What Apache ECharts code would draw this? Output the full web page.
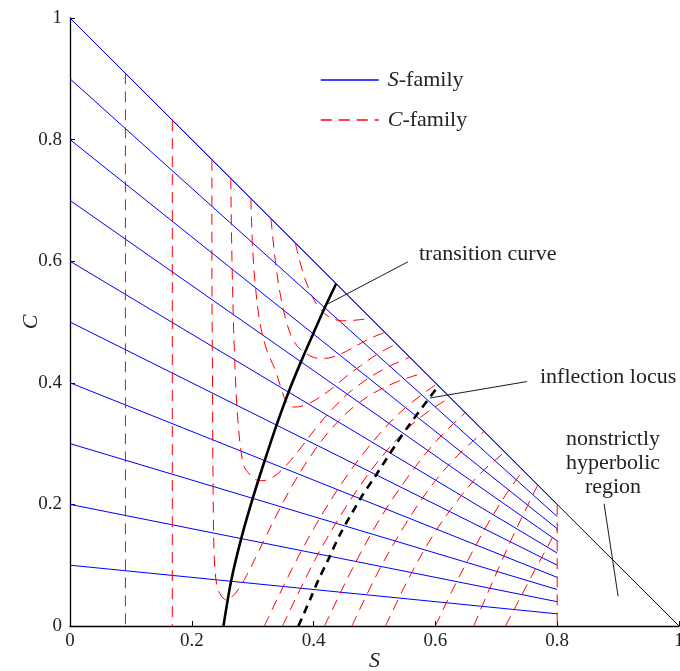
<!DOCTYPE html>
<html><head><meta charset="utf-8">
<script src="https://cdn.jsdelivr.net/npm/echarts@6/dist/echarts.min.js"></script>
<style>html,body{margin:0;padding:0;background:#fff}#c{width:680px;height:671px}</style>
</head><body><div id="c"></div>
<script>
// ---------- data ----------
const AXIS_TICKS = [0, 0.2, 0.4, 0.6, 0.8, 1];
// S-family: straight lines from (0, startC) to (0.8, endC)
const S_FAMILY_START_C = [0.1, 0.2, 0.3, 0.4, 0.5, 0.6, 0.7, 0.8, 0.9, 1.0];
const S_FAMILY_END_S = 0.8;
const S_FAMILY_END_C = [0.02, 0.04, 0.06, 0.08, 0.10, 0.12, 0.14, 0.16, 0.18, 0.20];
// boundary S + C = 1
const BOUNDARY = [[0, 1], [1, 0]];
// C-family curves
const C_VERT_1 = [[0.091, 0.909], [0.091, 0]];
const C_VERT_2 = [[0.168, 0.832], [0.168, 0]];
const C_EDGE = [[0.8, 0.2], [0.8, 0]];
const C_U1 = [[0.233,0.767],[0.233,0.6],[0.234,0.4],[0.235,0.22],[0.237,0.11],[0.241,0.068],[0.248,0.050],[0.257,0.043],[0.266,0.048],[0.277,0.061],[0.29,0.083],[0.305,0.113],[0.322,0.148],[0.342,0.188],[0.365,0.231],[0.392,0.275],[0.422,0.316],[0.456,0.352],[0.495,0.381],[0.538,0.402],[0.583,0.417]];
const C_U2 = [[0.264,0.736],[0.266,0.6],[0.27,0.45],[0.276,0.334],[0.285,0.265],[0.296,0.248],[0.304,0.241],[0.315,0.239],[0.33,0.243],[0.345,0.254],[0.362,0.272],[0.382,0.297],[0.405,0.327],[0.432,0.358],[0.462,0.387],[0.494,0.41],[0.526,0.428],[0.558,0.442]];
const C_U3 = [[0.297,0.703],[0.300,0.618],[0.305,0.553],[0.312,0.498],[0.323,0.454],[0.337,0.421],[0.347,0.39],[0.356,0.368],[0.368,0.36],[0.385,0.363],[0.405,0.373],[0.428,0.389],[0.452,0.409],[0.477,0.428],[0.506,0.448],[0.536,0.464]];
const C_U4 = [[0.330,0.670],[0.337,0.602],[0.345,0.547],[0.356,0.498],[0.369,0.466],[0.386,0.449],[0.41,0.44],[0.43,0.442],[0.45,0.450],[0.472,0.462],[0.495,0.474],[0.517,0.483]];
const C_U5 = [[0.370,0.630],[0.376,0.605],[0.383,0.580],[0.394,0.550],[0.41,0.522],[0.428,0.507],[0.448,0.502],[0.468,0.503],[0.494,0.506]];
const C_A1 = [[0.319,0],[0.376,0.116],[0.432,0.213],[0.489,0.293],[0.545,0.354],[0.602,0.398]];
const C_A2 = [[0.349,0],[0.404,0.112],[0.459,0.205],[0.514,0.281],[0.569,0.338],[0.624,0.376]];
const C_A3 = [[0.418,0],[0.464,0.095],[0.510,0.178],[0.557,0.248],[0.603,0.306],[0.649,0.351]];
const C_A4 = [[0.463,0],[0.506,0.089],[0.550,0.166],[0.593,0.230],[0.637,0.281],[0.68,0.32]];
const C_A5 = [[0.518,0],[0.557,0.080],[0.596,0.149],[0.636,0.206],[0.675,0.252],[0.714,0.286]];
const C_A6 = [[0.60,0],[0.629,0.061],[0.658,0.117],[0.686,0.168],[0.715,0.215],[0.744,0.256]];
const C_A7 = [[0.663,0],[0.684,0.050],[0.705,0.098],[0.726,0.145],[0.747,0.189],[0.768,0.232]];
const C_A8 = [[0.715,0],[0.758,0.082],[0.8,0.16]];
const C_CURVES = [C_VERT_1, C_VERT_2, C_U1, C_U2, C_U3, C_U4, C_U5, C_A1, C_A2, C_A3, C_A4, C_A5, C_A6, C_A7, C_A8, C_EDGE];
// special curves
const TRANSITION_CURVE = [[0.252,0],[0.265,0.076],[0.282,0.147],[0.301,0.213],[0.320,0.273],[0.339,0.330],[0.359,0.385],[0.379,0.434],[0.399,0.480],[0.419,0.525],[0.437,0.563]];
const INFLECTION_LOCUS = [[0.375,0],[0.394,0.043],[0.408,0.076],[0.424,0.109],[0.443,0.150],[0.479,0.213],[0.501,0.246],[0.536,0.300],[0.558,0.332],[0.605,0.395]];
// annotation leaders (data coordinates)
const LEADER_TRANSITION = [[0.555,0.599],[0.424,0.530]];
const LEADER_INFLECTION = [[0.75,0.402],[0.591,0.375]];
const LEADER_REGION = [[0.877,0.201],[0.900,0.049]];
const LABELS = ['transition curve', 'inflection locus', 'nonstrictly\nhyperbolic\nregion'];
const LEGEND_NAMES = ['S-family', 'C-family'];

// ---------- chart ----------
const FONT = 'Liberation Serif';
const chart = echarts.init(document.getElementById('c'), null, {renderer: 'canvas'});
const series = [];
function addLine(name, data, color, width, type, z, smooth) {
  series.push({
    name: name, type: 'line', data: data, symbol: 'none', showSymbol: false,
    smooth: smooth || false, z: z, silent: true, animation: false,
    lineStyle: {color: color, width: width, type: type, cap: 'butt'},
    itemStyle: {color: color}
  });
}
addLine('boundary', BOUNDARY, '#000', 1, 'solid', 2);
S_FAMILY_START_C.forEach((c, i) => {
  addLine(LEGEND_NAMES[0], [[0, c], [S_FAMILY_END_S, S_FAMILY_END_C[i]]], '#0000ff', 1, 'solid', 3);
});
C_CURVES.forEach(curve => {
  addLine(LEGEND_NAMES[1], curve, '#ff0000', 1, [11, 7], 4, curve.length > 3 ? 0.35 : false);
});
addLine('transition', TRANSITION_CURVE, '#000', 2.6, 'solid', 6, 0.3);
addLine('inflection', INFLECTION_LOCUS, '#000', 2.6, [8, 6], 6, 0.3);
[LEADER_TRANSITION, LEADER_INFLECTION, LEADER_REGION].forEach(l => addLine('leader', l, '#000', 0.9, 'solid', 5));

const fmt = v => String(+(+v).toFixed(1));
const axisCommon = {
  type: 'value', min: 0, max: 1, interval: 0.2,
  splitLine: {show: false},
  axisLine: {show: true, onZero: false, lineStyle: {color: '#000', width: 1.3}},
  axisTick: {show: true, inside: true, length: 5, lineStyle: {color: '#000', width: 1}},
  axisLabel: {fontFamily: FONT, fontSize: 19, color: '#222', formatter: fmt},
  nameTextStyle: {fontFamily: FONT, fontSize: 22, fontStyle: 'italic', color: '#222'},
  nameLocation: 'middle', nameMoveOverlap: false
};
chart.setOption({
  animation: false,
  backgroundColor: '#fff',
  grid: {left: 70, top: 18, right: 1, bottom: 45, containLabel: false, outerBoundsMode: 'none'},
  xAxis: Object.assign({}, axisCommon, {name: 'S', nameGap: 24, axisLabel: Object.assign({}, axisCommon.axisLabel, {margin: 6})}),
  yAxis: Object.assign({}, axisCommon, {name: 'C', nameGap: 28, nameRotate: 90, axisLabel: Object.assign({}, axisCommon.axisLabel, {margin: 8})}),
  legend: {
    data: LEGEND_NAMES, orient: 'vertical', left: 315, top: 64,
    itemWidth: 58, itemHeight: 20, itemGap: 18, selectedMode: false,
    itemStyle: {opacity: 0},
    lineStyle: {width: 1.5},
    textStyle: {fontFamily: FONT, fontSize: 22, color: '#222', padding: [0, 0, 0, 4],
      rich: {i: {fontFamily: FONT, fontSize: 22, fontStyle: 'italic', color: '#222'}}},
    formatter: n => '{i|' + n.charAt(0) + '}' + n.slice(1)
  },
  graphic: [
    {type: 'text', left: 419, top: 243, silent: true, style: {text: LABELS[0], font: '22px "' + FONT + '"', fill: '#222'}},
    {type: 'text', left: 540, top: 366, silent: true, style: {text: LABELS[1], font: '22px "' + FONT + '"', fill: '#222'}},
    {type: 'text', x: 613, y: 427, silent: true, style: {text: LABELS[2], font: '22px "' + FONT + '"', fill: '#222', align: 'center', lineHeight: 24}}
  ],
  series: series
});
</script></body></html>
